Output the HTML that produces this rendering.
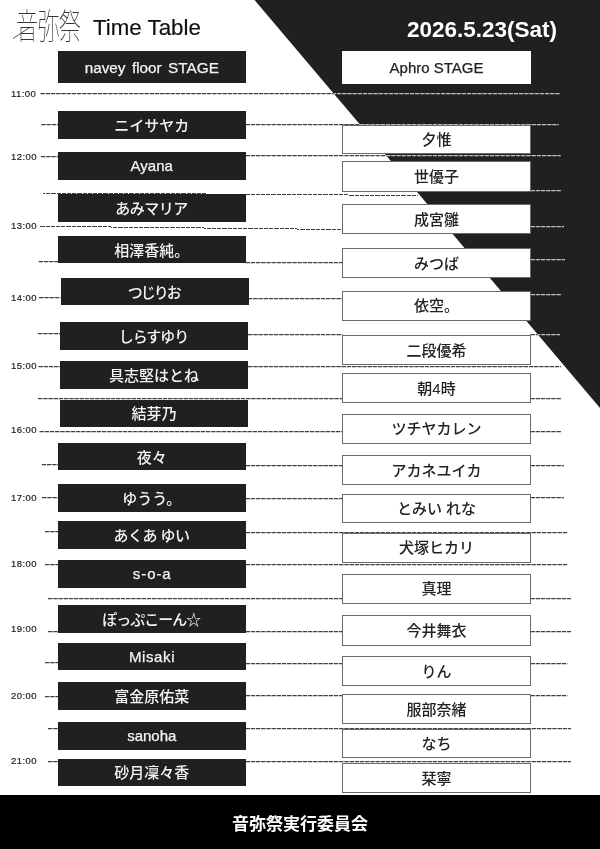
<!DOCTYPE html>
<html lang="ja">
<head>
<meta charset="utf-8">
<title>音弥祭 Time Table</title>
<style>
html,body{margin:0;padding:0;}
body{width:600px;height:849px;position:relative;overflow:hidden;background:#fff;
 font-family:"Liberation Sans","Noto Sans CJK JP",sans-serif;color:#222;}
#bg{position:absolute;left:0;top:0;width:600px;height:849px;}
.lb,.rb{position:absolute;box-sizing:border-box;display:flex;align-items:center;justify-content:center;
 font-size:15px;font-weight:500;white-space:pre;}
.lb{background:#202020;color:#f4f4f4;}
.rb{background:#fff;color:#222;border:1px solid #6a6a6a;left:342px;width:189px;}
.rb.hd{border-color:#fff;}
.lb span{display:block;position:relative;top:-0.5px;}
.rb span{display:block;position:relative;top:-0.8px;}
.lb span.hdl{font-size:15.3px;word-spacing:2.2px;top:0.5px;}
.rb.hd span{top:0.3px;}
.lb,.rb,.tm,#ttl,#date,#foot,#logo{will-change:transform;}
.lat{-webkit-text-stroke:0.25px currentColor;}
.tm{position:absolute;left:10.6px;width:30px;font-size:9.5px;line-height:12px;height:12px;color:#222;letter-spacing:0.45px;-webkit-text-stroke:0.2px #222;}
#logo{position:absolute;left:16px;top:4.5px;font-family:"Noto Sans CJK JP",sans-serif;font-weight:100;font-size:22px;line-height:36px;letter-spacing:-0.6px;color:#333;white-space:nowrap;transform-origin:0 50%;transform:scale(1,1.62);}
#ttl{position:absolute;left:92.5px;top:14.5px;-webkit-text-stroke:0.2px #111;font-size:22.3px;line-height:26px;color:#111;white-space:nowrap;}
#date{position:absolute;left:406.5px;top:17px;font-size:22.5px;line-height:26px;font-weight:bold;color:#fff;white-space:nowrap;}
#foot{position:absolute;left:0;top:795px;width:600px;height:54px;background:#000;color:#fff;
 font-weight:bold;font-size:17px;display:flex;align-items:center;justify-content:center;}
</style>
</head>
<body>

<svg id="bg" width="600" height="849" viewBox="0 0 600 849">
<defs><clipPath id="ct"><polygon points="254.5,0 600,0 600,408"/></clipPath>
<clipPath id="cw"><polygon points="0,0 254.5,0 600,408 600,849 0,849"/></clipPath></defs>
<polygon points="254.5,0 600,0 600,408" fill="#202020"/>
<g clip-path="url(#cw)"><g stroke="#404040" stroke-width="1.25" stroke-dasharray="4.4 0.8" fill="none">
<line x1="40.5" y1="93.5" x2="559.5" y2="93.5"/>
<line x1="41.25" y1="124.5" x2="58" y2="124.5"/>
<line x1="245.5" y1="124.5" x2="559" y2="124.5"/>
<line x1="41" y1="156.5" x2="58" y2="156.5"/>
<line x1="245.5" y1="155.5" x2="560.75" y2="155.5"/>
<line x1="41" y1="193" x2="245.5" y2="194.25" stroke-width="1" stroke-dasharray="4.2 1" shape-rendering="crispEdges"/>
<line x1="245.5" y1="194.25" x2="418" y2="195.5" stroke-width="1" stroke-dasharray="4.2 1" shape-rendering="crispEdges"/>
<line x1="530.5" y1="190.5" x2="561" y2="190.5"/>
<line x1="40.5" y1="226.25" x2="342.5" y2="229.5" stroke-width="1" stroke-dasharray="4.2 1" shape-rendering="crispEdges"/>
<line x1="530.5" y1="226.5" x2="564" y2="226.5"/>
<line x1="38.75" y1="261.5" x2="58" y2="261.5"/>
<line x1="245.5" y1="262.5" x2="342.5" y2="262.5"/>
<line x1="530.5" y1="259.5" x2="565" y2="259.5"/>
<line x1="39" y1="297.5" x2="60.5" y2="297.5"/>
<line x1="248" y1="298.5" x2="342.5" y2="298.5"/>
<line x1="530.5" y1="294.5" x2="561" y2="294.5"/>
<line x1="38" y1="333.5" x2="60" y2="333.5"/>
<line x1="248" y1="334.5" x2="342.5" y2="334.5"/>
<line x1="530.5" y1="334.5" x2="560" y2="334.5"/>
<line x1="38.5" y1="366.5" x2="60" y2="366.5"/>
<line x1="248" y1="366.5" x2="561" y2="366.5"/>
<line x1="38" y1="398.5" x2="342.5" y2="398.5"/>
<line x1="530.5" y1="398.5" x2="561" y2="398.5"/>
<line x1="39.5" y1="431.5" x2="342.5" y2="431.5"/>
<line x1="530.5" y1="431.5" x2="561" y2="431.5"/>
<line x1="41.75" y1="464.5" x2="58" y2="464.5"/>
<line x1="245.5" y1="465.5" x2="342.5" y2="465.5"/>
<line x1="530.5" y1="465.5" x2="564" y2="465.5"/>
<line x1="42" y1="497.5" x2="58" y2="497.5"/>
<line x1="245.5" y1="498.5" x2="342.5" y2="498.5"/>
<line x1="530.5" y1="497.5" x2="564" y2="497.5"/>
<line x1="45" y1="531.5" x2="58" y2="531.5"/>
<line x1="245.5" y1="532.5" x2="567.4" y2="532.5"/>
<line x1="45" y1="564.5" x2="58" y2="564.5"/>
<line x1="245.5" y1="564.5" x2="567.4" y2="564.5"/>
<line x1="48" y1="598.5" x2="342.5" y2="598.5"/>
<line x1="530.5" y1="598.5" x2="571" y2="598.5"/>
<line x1="48" y1="631.5" x2="58" y2="631.5"/>
<line x1="245.5" y1="631.5" x2="342.5" y2="631.5"/>
<line x1="530.5" y1="631.5" x2="571" y2="631.5"/>
<line x1="45" y1="662.5" x2="58" y2="662.5"/>
<line x1="245.5" y1="663.5" x2="342.5" y2="663.5"/>
<line x1="530.5" y1="663.5" x2="567.4" y2="663.5"/>
<line x1="45" y1="696.5" x2="58" y2="696.5"/>
<line x1="245.5" y1="695.5" x2="342.5" y2="695.5"/>
<line x1="530.5" y1="695.5" x2="567.4" y2="695.5"/>
<line x1="48" y1="728.5" x2="58" y2="728.5"/>
<line x1="245.5" y1="728.5" x2="571" y2="728.5"/>
<line x1="48" y1="761.5" x2="58" y2="761.5"/>
<line x1="245.5" y1="761.5" x2="571" y2="761.5"/>
</g></g>
<g clip-path="url(#ct)"><g stroke="#c0c0c0" stroke-width="1.25" stroke-dasharray="4.4 0.8" fill="none">
<line x1="40.5" y1="93.5" x2="559.5" y2="93.5"/>
<line x1="41.25" y1="124.5" x2="58" y2="124.5"/>
<line x1="245.5" y1="124.5" x2="559" y2="124.5"/>
<line x1="41" y1="156.5" x2="58" y2="156.5"/>
<line x1="245.5" y1="155.5" x2="560.75" y2="155.5"/>
<line x1="41" y1="193" x2="245.5" y2="194.25" stroke-width="1" stroke-dasharray="4.2 1" shape-rendering="crispEdges"/>
<line x1="245.5" y1="194.25" x2="418" y2="195.5" stroke-width="1" stroke-dasharray="4.2 1" shape-rendering="crispEdges"/>
<line x1="530.5" y1="190.5" x2="561" y2="190.5"/>
<line x1="40.5" y1="226.25" x2="342.5" y2="229.5" stroke-width="1" stroke-dasharray="4.2 1" shape-rendering="crispEdges"/>
<line x1="530.5" y1="226.5" x2="564" y2="226.5"/>
<line x1="38.75" y1="261.5" x2="58" y2="261.5"/>
<line x1="245.5" y1="262.5" x2="342.5" y2="262.5"/>
<line x1="530.5" y1="259.5" x2="565" y2="259.5"/>
<line x1="39" y1="297.5" x2="60.5" y2="297.5"/>
<line x1="248" y1="298.5" x2="342.5" y2="298.5"/>
<line x1="530.5" y1="294.5" x2="561" y2="294.5"/>
<line x1="38" y1="333.5" x2="60" y2="333.5"/>
<line x1="248" y1="334.5" x2="342.5" y2="334.5"/>
<line x1="530.5" y1="334.5" x2="560" y2="334.5"/>
<line x1="38.5" y1="366.5" x2="60" y2="366.5"/>
<line x1="248" y1="366.5" x2="561" y2="366.5"/>
<line x1="38" y1="398.5" x2="342.5" y2="398.5"/>
<line x1="530.5" y1="398.5" x2="561" y2="398.5"/>
<line x1="39.5" y1="431.5" x2="342.5" y2="431.5"/>
<line x1="530.5" y1="431.5" x2="561" y2="431.5"/>
<line x1="41.75" y1="464.5" x2="58" y2="464.5"/>
<line x1="245.5" y1="465.5" x2="342.5" y2="465.5"/>
<line x1="530.5" y1="465.5" x2="564" y2="465.5"/>
<line x1="42" y1="497.5" x2="58" y2="497.5"/>
<line x1="245.5" y1="498.5" x2="342.5" y2="498.5"/>
<line x1="530.5" y1="497.5" x2="564" y2="497.5"/>
<line x1="45" y1="531.5" x2="58" y2="531.5"/>
<line x1="245.5" y1="532.5" x2="567.4" y2="532.5"/>
<line x1="45" y1="564.5" x2="58" y2="564.5"/>
<line x1="245.5" y1="564.5" x2="567.4" y2="564.5"/>
<line x1="48" y1="598.5" x2="342.5" y2="598.5"/>
<line x1="530.5" y1="598.5" x2="571" y2="598.5"/>
<line x1="48" y1="631.5" x2="58" y2="631.5"/>
<line x1="245.5" y1="631.5" x2="342.5" y2="631.5"/>
<line x1="530.5" y1="631.5" x2="571" y2="631.5"/>
<line x1="45" y1="662.5" x2="58" y2="662.5"/>
<line x1="245.5" y1="663.5" x2="342.5" y2="663.5"/>
<line x1="530.5" y1="663.5" x2="567.4" y2="663.5"/>
<line x1="45" y1="696.5" x2="58" y2="696.5"/>
<line x1="245.5" y1="695.5" x2="342.5" y2="695.5"/>
<line x1="530.5" y1="695.5" x2="567.4" y2="695.5"/>
<line x1="48" y1="728.5" x2="58" y2="728.5"/>
<line x1="245.5" y1="728.5" x2="571" y2="728.5"/>
<line x1="48" y1="761.5" x2="58" y2="761.5"/>
<line x1="245.5" y1="761.5" x2="571" y2="761.5"/>
</g></g>
<line x1="13.2" y1="38.4" x2="29.5" y2="27.6" stroke="#444" stroke-width="0.9"/>
</svg>
<div id="logo">音弥祭</div>
<div id="ttl">Time Table</div>
<div id="date">2026.5.23(Sat)</div>
<div class="tm" style="top:87.55px">11:00</div>
<div class="tm" style="top:150.8px">12:00</div>
<div class="tm" style="top:219.8px">13:00</div>
<div class="tm" style="top:291.8px">14:00</div>
<div class="tm" style="top:359.8px">15:00</div>
<div class="tm" style="top:424.3px">16:00</div>
<div class="tm" style="top:491.8px">17:00</div>
<div class="tm" style="top:558.3px">18:00</div>
<div class="tm" style="top:623.3px">19:00</div>
<div class="tm" style="top:689.8px">20:00</div>
<div class="tm" style="top:754.8px">21:00</div>
<div class="lb lat" style="left:58px;width:187.5px;top:51px;height:32px"><span class="hdl">navey floor STAGE</span></div>
<div class="lb" style="left:58px;width:187.5px;top:111.25px;height:27.5px"><span>ニイサヤカ</span></div>
<div class="lb lat" style="left:58px;width:187.5px;top:152px;height:27.5px"><span>Ayana</span></div>
<div class="lb" style="left:58px;width:187.5px;top:193.75px;height:27.5px"><span style="letter-spacing:-0.5px;margin-right:0.5px">あみマリア</span></div>
<div class="lb" style="left:58px;width:187.5px;top:235.75px;height:27.25px"><span>相澤香純。</span></div>
<div class="lb" style="left:60.5px;width:187.5px;top:278px;height:27px"><span style="letter-spacing:-2px;margin-right:2px">つじりお</span></div>
<div class="lb" style="left:60px;width:188px;top:321.5px;height:27.5px"><span style="letter-spacing:-1px;margin-right:1px">しらすゆり</span></div>
<div class="lb" style="left:60px;width:188px;top:361.25px;height:27.5px"><span>具志堅はとね</span></div>
<div class="lb" style="left:60px;width:188px;top:400.25px;height:26.75px"><span>結芽乃</span></div>
<div class="lb" style="left:58px;width:187.5px;top:443px;height:27px"><span>夜々</span></div>
<div class="lb" style="left:58px;width:187.5px;top:483.75px;height:27.5px"><span>ゆうう。</span></div>
<div class="lb" style="left:58px;width:187.5px;top:521.25px;height:27.5px"><span style="letter-spacing:-0.5px;margin-right:0.5px">あくあ ゆい</span></div>
<div class="lb lat" style="left:58px;width:187.5px;top:560px;height:27.5px"><span style="letter-spacing:0.9px;margin-right:-0.9px">s-o-a</span></div>
<div class="lb" style="left:58px;width:187.5px;top:604.5px;height:27.5px"><span style="letter-spacing:-1px;margin-right:1px">ぽっぷこーん☆</span></div>
<div class="lb lat" style="left:58px;width:187.5px;top:643.25px;height:27.25px"><span style="letter-spacing:0.6px;margin-right:-0.6px">Misaki</span></div>
<div class="lb" style="left:58px;width:187.5px;top:681.75px;height:27.75px"><span>富金原佑菜</span></div>
<div class="lb lat" style="left:58px;width:187.5px;top:721.75px;height:27.5px"><span>sanoha</span></div>
<div class="lb" style="left:58px;width:187.5px;top:758.75px;height:26.75px"><span>砂月凜々香</span></div>
<div class="rb hd lat" style="top:50.5px;height:32.75px"><span>Aphro STAGE</span></div>
<div class="rb" style="top:125px;height:29.25px"><span>夕惟</span></div>
<div class="rb" style="top:161.25px;height:30.5px"><span>世優子</span></div>
<div class="rb" style="top:203.75px;height:30px"><span>成宮雛</span></div>
<div class="rb" style="top:247.75px;height:30.25px"><span>みつば</span></div>
<div class="rb" style="top:290.5px;height:29.5px"><span>依空。</span></div>
<div class="rb" style="top:334.5px;height:29.75px"><span>二段優希</span></div>
<div class="rb" style="top:373.25px;height:29.75px"><span>朝4時</span></div>
<div class="rb" style="top:414px;height:29.5px"><span>ツチヤカレン</span></div>
<div class="rb" style="top:454.5px;height:29.75px"><span>アカネユイカ</span></div>
<div class="rb" style="top:493.75px;height:29.25px"><span>とみい れな</span></div>
<div class="rb" style="top:533px;height:29.5px"><span>犬塚ヒカリ</span></div>
<div class="rb" style="top:574px;height:29.5px"><span>真理</span></div>
<div class="rb" style="top:615px;height:30.5px"><span>今井舞衣</span></div>
<div class="rb" style="top:655.75px;height:29.75px"><span>りん</span></div>
<div class="rb" style="top:693.75px;height:29.75px"><span>服部奈緒</span></div>
<div class="rb" style="top:728.75px;height:29.25px"><span>なち</span></div>
<div class="rb" style="top:763.25px;height:29.75px"><span>栞寧</span></div>
<div id="foot"><span>音弥祭実行委員会</span></div>
</body>
</html>
